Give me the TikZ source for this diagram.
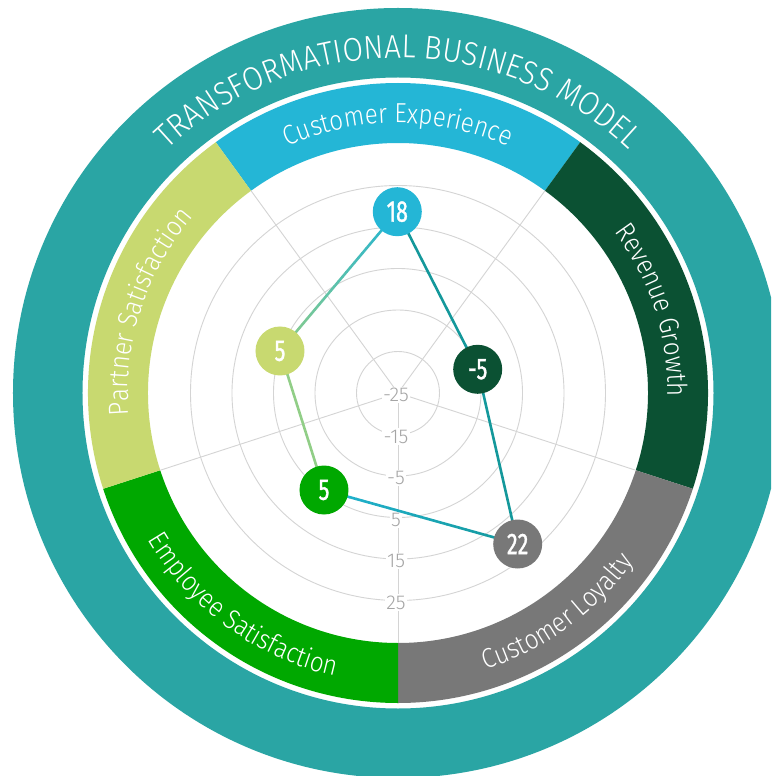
\documentclass[tikz,border=0pt]{standalone}
\usepackage{fontspec}
\setmainfont{Fira Sans}
\newfontfamily\titlefam{Fira Sans Light}[FakeStretch=0.9]
\newfontfamily\bandfam{Fira Sans Light}[FakeStretch=0.88]
\newfontfamily\axisfam{Fira Sans Light}
\newfontfamily\numfam{Fira Sans}[FakeStretch=0.72,FakeBold=1]
\newcommand{\titlefont}{\titlefam\fontsize{33}{33}\selectfont}
\newcommand{\bandfont}{\bandfam\fontsize{27.5}{27.5}\selectfont}
\newcommand{\numfont}{\numfam\fontsize{30}{30}\selectfont}
\usetikzlibrary{decorations.text,calc}
\definecolor{ringteal}{RGB}{42,165,164}
\definecolor{cexp}{RGB}{36,182,214}
\definecolor{revg}{RGB}{11,81,51}
\definecolor{cloy}{RGB}{120,120,120}
\definecolor{empl}{RGB}{0,168,0}
\definecolor{partn}{RGB}{200,217,112}
\definecolor{gridc}{RGB}{212,212,212}
\definecolor{axlab}{RGB}{165,165,165}
\definecolor{lteal}{RGB}{20,152,155}
\definecolor{lcyan}{RGB}{34,180,210}
\definecolor{lgreen}{RGB}{145,206,135}
\pgfdeclarelayer{front}
\pgfsetlayers{main,front}
\newcommand{\gradseg}[4]{%
  \foreach \i in {0,...,29}{%
    \pgfmathsetmacro{\pa}{\i/30}%
    \pgfmathsetmacro{\pb}{(\i+1)/30}%
    \pgfmathtruncatemacro{\pc}{100-(\i+0.5)/30*100}%
    \draw[dataline,#3!\pc!#4] ($(#1)!\pa!(#2)$) -- ($(#1)!\pb!(#2)$);
  }}
\tikzset{
  gridline/.style={draw=gridc,line width=0.9pt},
  axislab/.style={fill=white,inner sep=1.5pt,text=axlab,font=\axisfam\fontsize{20}{20}\selectfont},
  datanode/.style={circle,minimum size=49pt,inner sep=0pt,text=white,font=\numfont},
  dataline/.style={line width=2.6pt,line cap=round},
  outlabel/.style={decorate,decoration={text along path,text align=center,text color=white,text={|\bandfont|#1}}},
  titlelabel/.style={decorate,decoration={text along path,text align=center,text color=white,text={|\titlefont|#1}}}
}
\begin{document}
\begin{tikzpicture}[x=1pt,y=1pt]
\useasboundingbox (-398,-383) rectangle (373,393);
\fill[white] (-398,-383) rectangle (373,393);
\clip (-398,-383) rectangle (373,393);
% outer teal ring
\fill[ringteal,even odd rule] (0,0) circle[radius=385pt] (0,0) circle[radius=315.5pt];
% band sectors
\foreach \a/\b/\c in {54/126/cexp,-18/54/revg,-90/-18/cloy,198/270/empl,126/198/partn}{
  \fill[\c] (\a:250pt) arc[start angle=\a,end angle=\b,radius=250pt] -- (\b:310pt)
    arc[start angle=\b,end angle=\a,radius=310pt] -- cycle;
}
% grid
\foreach \k in {1,...,5}{\draw[gridline] (0,0) circle[radius=41.5*\k pt];}
\foreach \a in {54,126,198,270,342}{\draw[gridline] (0,0) -- (\a:250pt);}
% axis labels
\foreach \v [count=\k from 0] in {-25,-15,-5,5,15,25}{
  \node[axislab] (lab\k) at (-2,{-41.5*\k-2}) {\v};
}
% band labels
\path[outlabel={Customer Experience}] (130:270pt) arc[start angle=130,end angle=50,radius=270pt];
\path[outlabel={Revenue Growth}] (58:270pt) arc[start angle=58,end angle=-22,radius=270pt];
\path[outlabel={Partner Satisfaction}] (202:270pt) arc[start angle=202,end angle=122,radius=270pt];
\path[outlabel={Customer Loyalty}] (-94:290pt) arc[start angle=-94,end angle=-14,radius=290pt];
\path[outlabel={Employee Satisfaction}] (194:290pt) arc[start angle=194,end angle=274,radius=290pt];
% title
\path[titlelabel={TRANSFORMATIONAL BUSINESS MODEL}] (140:335pt) arc[start angle=140,end angle=40,radius=335pt];
% data nodes
\begin{pgfonlayer}{front}
\node[datanode,fill=cexp] (n18) at (-0.7,181.3) {18};
\node[datanode,fill=revg] (nrev) at (79.7,23.7) {-5};
\node[datanode,fill=cloy] (n22) at (119.7,-151) {22};
\node[datanode,fill=empl] (nemp) at (-74,-97) {5};
\node[datanode,fill=partn] (npar) at (-118,42) {5};
\end{pgfonlayer}
% data lines
\gradseg{npar}{n18}{lgreen}{lcyan}
\draw[dataline,lteal] (n18.center) -- (nrev.center);
\draw[dataline,lteal] (nrev.center) -- (n22.center);
\gradseg{n22}{nemp}{lteal}{lcyan}
\draw[dataline,lgreen] (nemp.center) -- (npar.center);
\end{tikzpicture}
\end{document}
